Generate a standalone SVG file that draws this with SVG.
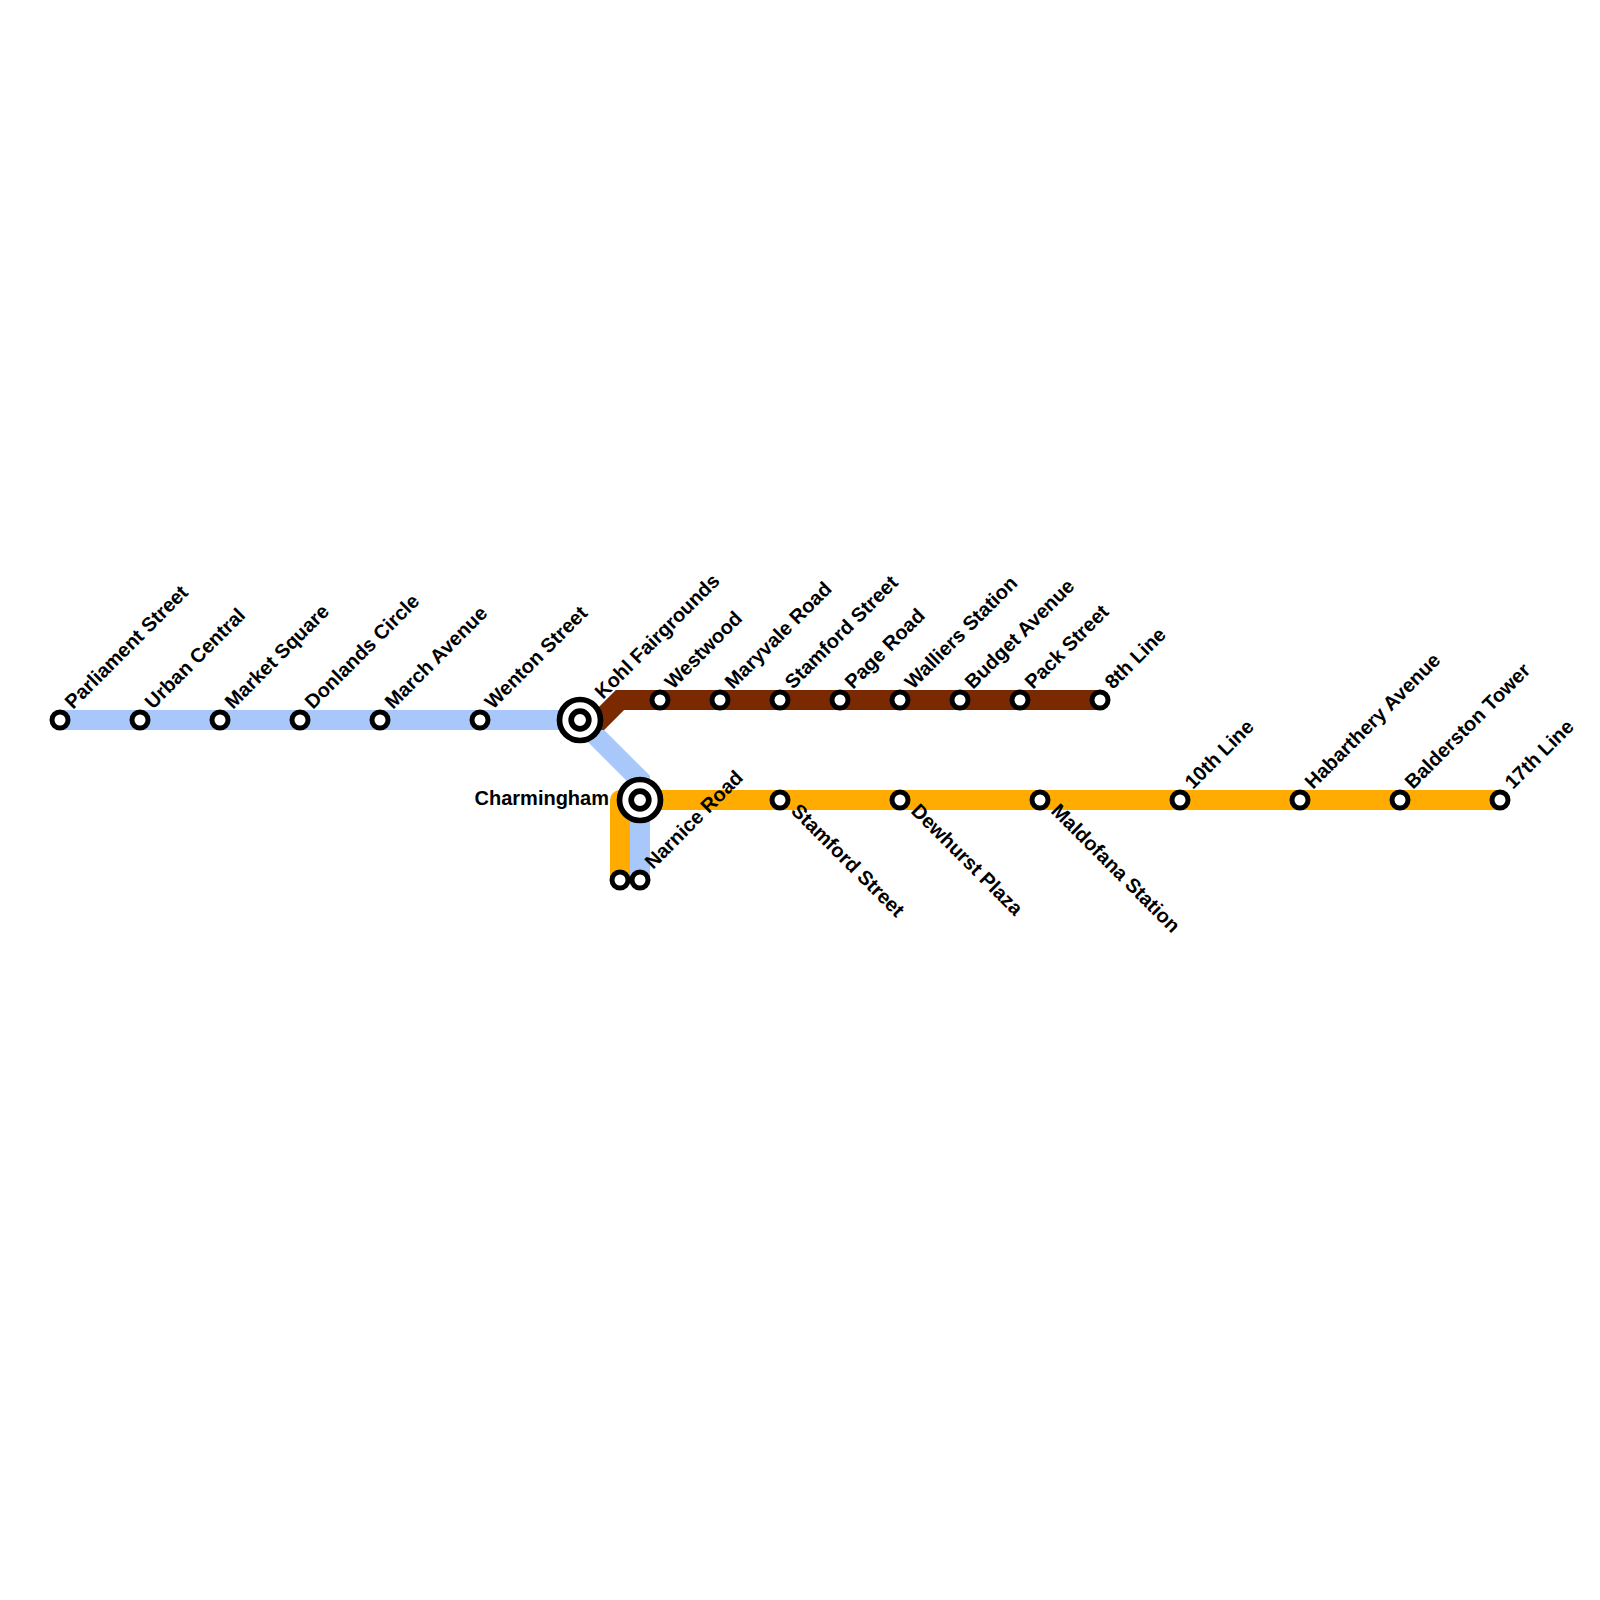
<svg xmlns="http://www.w3.org/2000/svg" width="1600" height="1600" viewBox="0 0 1600 1600">
<style>
.line{fill:none;stroke-width:20}
.blue{stroke:#a8c7fa;stroke-linejoin:miter}
.brown{stroke:#7b2900;stroke-linejoin:miter}
.orange{stroke:#ffab00;stroke-linejoin:round}
.st{fill:#fff;stroke:#000;stroke-width:5}
.ic{fill:#fff;stroke:#000;stroke-width:5.7}
text{font-family:"Liberation Sans",Arial,sans-serif;font-weight:bold;font-size:20px;fill:#000}
</style>
<rect width="1600" height="1600" fill="#fff"/>
<g id="connectors">
<path class="line blue" d="M60,720 L580,720 L640,780 L640,880"/>
<path class="line brown" d="M580,720 L600,720 L620,700 L1100,700"/>
<path class="line orange" d="M1500,800 L620,800 L620,880"/>
</g>
<g id="parliament-street"><circle class="st" cx="60" cy="720" r="8"/><text transform="translate(73,710) rotate(-45)">Parliament Street</text></g>
<g id="urban-central"><circle class="st" cx="140" cy="720" r="8"/><text transform="translate(153,710) rotate(-45)">Urban Central</text></g>
<g id="market-square"><circle class="st" cx="220" cy="720" r="8"/><text transform="translate(233,710) rotate(-45)">Market Square</text></g>
<g id="donlands-circle"><circle class="st" cx="300" cy="720" r="8"/><text transform="translate(313,710) rotate(-45)">Donlands Circle</text></g>
<g id="march-avenue"><circle class="st" cx="380" cy="720" r="8"/><text transform="translate(393,710) rotate(-45)">March Avenue</text></g>
<g id="wenton-street"><circle class="st" cx="480" cy="720" r="8"/><text transform="translate(493,710) rotate(-45)">Wenton Street</text></g>
<g id="kohl-fairgrounds"><circle class="ic" cx="580" cy="720" r="20.5"/><circle class="ic" cx="580" cy="720" r="8.8"/><text transform="translate(603,700) rotate(-45)">Kohl Fairgrounds</text></g>
<g id="westwood"><circle class="st" cx="660" cy="700" r="8"/><text transform="translate(673,690) rotate(-45)">Westwood</text></g>
<g id="maryvale-road"><circle class="st" cx="720" cy="700" r="8"/><text transform="translate(733,690) rotate(-45)">Maryvale Road</text></g>
<g id="stamford-street-brown"><circle class="st" cx="780" cy="700" r="8"/><text transform="translate(793,690) rotate(-45)">Stamford Street</text></g>
<g id="page-road"><circle class="st" cx="840" cy="700" r="8"/><text transform="translate(853,690) rotate(-45)">Page Road</text></g>
<g id="walliers-station"><circle class="st" cx="900" cy="700" r="8"/><text transform="translate(913,690) rotate(-45)">Walliers Station</text></g>
<g id="budget-avenue"><circle class="st" cx="960" cy="700" r="8"/><text transform="translate(973,690) rotate(-45)">Budget Avenue</text></g>
<g id="pack-street"><circle class="st" cx="1020" cy="700" r="8"/><text transform="translate(1033,690) rotate(-45)">Pack Street</text></g>
<g id="eighth-line"><circle class="st" cx="1100" cy="700" r="8"/><text transform="translate(1113,690) rotate(-45)">8th Line</text></g>
<g id="charmingham"><circle class="ic" cx="640" cy="800" r="20.5"/><circle class="ic" cx="640" cy="800" r="8.8"/><text x="609" y="805" text-anchor="end">Charmingham</text></g>
<g id="orange-terminus"><circle class="st" cx="620" cy="880" r="8"/></g>
<g id="narnice-road"><circle class="st" cx="640" cy="880" r="8"/><text transform="translate(653,870) rotate(-45)">Narnice Road</text></g>
<g id="stamford-street-orange"><circle class="st" cx="780" cy="800" r="8"/><text transform="translate(790,812) rotate(45)">Stamford Street</text></g>
<g id="dewhurst-plaza"><circle class="st" cx="900" cy="800" r="8"/><text transform="translate(910,812) rotate(45)">Dewhurst Plaza</text></g>
<g id="maldofana-station"><circle class="st" cx="1040" cy="800" r="8"/><text transform="translate(1050,812) rotate(45)">Maldofana Station</text></g>
<g id="tenth-line"><circle class="st" cx="1180" cy="800" r="8"/><text transform="translate(1193,790) rotate(-45)">10th Line</text></g>
<g id="habarthery-avenue"><circle class="st" cx="1300" cy="800" r="8"/><text transform="translate(1313,790) rotate(-45)">Habarthery Avenue</text></g>
<g id="balderston-tower"><circle class="st" cx="1400" cy="800" r="8"/><text transform="translate(1413,790) rotate(-45)">Balderston Tower</text></g>
<g id="seventeenth-line"><circle class="st" cx="1500" cy="800" r="8"/><text transform="translate(1513,790) rotate(-45)">17th Line</text></g>
</svg>
